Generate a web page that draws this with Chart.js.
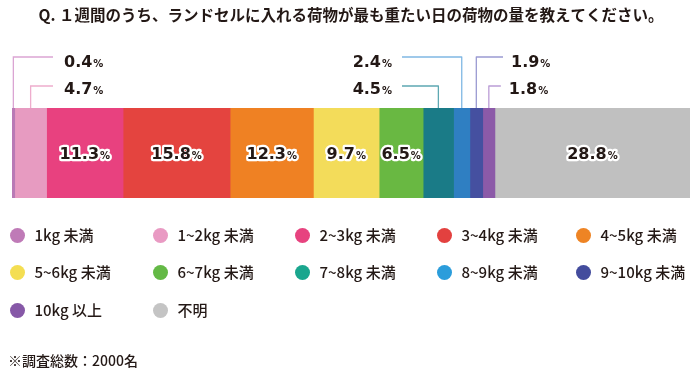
<!DOCTYPE html>
<html>
<head>
<meta charset="utf-8">
<script src="https://cdn.jsdelivr.net/npm/chart.js@4"></script>
<style>
html,body{margin:0;padding:0;background:#fff;}
#wrap{position:relative;width:700px;height:378px;overflow:hidden;font-family:"Noto Sans CJK JP","Noto Sans",sans-serif;color:#231815;}
#c{position:absolute;left:0;top:0;}
.lg{position:absolute;display:flex;align-items:center;height:20px;font-size:15px;line-height:20px;white-space:nowrap;font-weight:500;}
.dot{width:15px;height:15px;border-radius:50%;margin-right:10px;flex:none;}
#note{position:absolute;left:8px;top:349px;font-size:14px;line-height:22px;font-weight:500;}
</style>
</head>
<body>
<div id="wrap">
  <canvas id="c" width="700" height="378"></canvas>
  <div id="legend"></div>
  <div id="note">※調査総数：2000名</div>
</div>
<script>
const titleText = 'Q. １週間のうち、ランドセルに入れる荷物が最も重たい日の荷物の量を教えてください。';
const categories = ['1kg 未満','1~2kg 未満','2~3kg 未満','3~4kg 未満','4~5kg 未満','5~6kg 未満','6~7kg 未満','7~8kg 未満','8~9kg 未満','9~10kg 未満','10kg 以上','不明'];
const values = [0.4, 4.7, 11.3, 15.8, 12.3, 9.7, 6.5, 4.5, 2.4, 1.9, 1.8, 28.8];
const barColors = ['#b97ab5','#e79bc1','#e8417f','#e4443f','#ef8123','#f3dc5a','#69b842','#1a7b87','#2f7fc2','#4550a0','#8c5aa8','#c0c0c0'];
const legendColors = ['#bf7ab7','#e99ac3','#e7437f','#e3413f','#ee8424','#f4de52','#64b946','#1aa68e','#2b9ddb','#434c9d','#8658a7','#c4c4c4'];
const leaderColors = ['#dba5d3','#eeadcd',null,null,null,null,null,'#5ea8b2','#80b8e4','#9a9ad2','#bb9dd6',null];

const total = values.reduce((a, b) => a + b, 0);

// callout placement (layout only)
const callouts = {
  0: {row: 0, side: 'left', end: 53},
  1: {row: 1, side: 'left', end: 53},
  7: {row: 1, side: 'mid', end: 402},
  8: {row: 0, side: 'mid', end: 402},
  9: {row: 0, side: 'right', end: 503},
  10: {row: 1, side: 'right', end: 491}
};
const rowLineY = [57, 86];
const rowBase = [67, 94];
const NUM_FONT = '"DejaVu Sans", sans-serif';
const INK = '#231815';

function drawPct(ctx, v, x, baseline, align, stroke) {
  const num = v.toFixed(1);
  ctx.font = 'bold 16px ' + NUM_FONT;
  const w1 = ctx.measureText(num).width;
  ctx.font = 'bold 10px ' + NUM_FONT;
  const w2 = ctx.measureText('%').width + 1;
  const w = w1 + w2;
  let sx = x;
  if (align === 'center') sx = x - w / 2;
  else if (align === 'right') sx = x - w;
  ctx.textAlign = 'left';
  ctx.textBaseline = 'alphabetic';
  if (stroke) {
    ctx.lineJoin = 'round';
    ctx.strokeStyle = '#ffffff';
    ctx.lineWidth = 4.5;
    ctx.font = 'bold 16px ' + NUM_FONT;
    ctx.strokeText(num, sx, baseline);
    ctx.font = 'bold 10px ' + NUM_FONT;
    ctx.strokeText('%', sx + w1 + 1, baseline);
  }
  ctx.fillStyle = INK;
  ctx.font = 'bold 16px ' + NUM_FONT;
  ctx.fillText(num, sx, baseline);
  ctx.font = 'bold 10px ' + NUM_FONT;
  ctx.fillText('%', sx + w1 + 1, baseline);
}

const labelPlugin = {
  id: 'segLabels',
  afterDatasetsDraw(chart) {
    const ctx = chart.ctx;
    ctx.save();
    chart.data.datasets.forEach((ds, i) => {
      const el = chart.getDatasetMeta(i).data[0];
      if (!el) return;
      const cx = (el.x + el.base) / 2;
      const top = el.y - el.height / 2;
      const v = ds.data[0];
      const co = callouts[i];
      if (!co) {
        drawPct(ctx, v, cx, el.y + 6, 'center', true);
        return;
      }
      const ly = rowLineY[co.row];
      let end = co.end;
      if (co.side === 'right') end = Math.max(end, cx + 12);
      ctx.strokeStyle = leaderColors[i];
      ctx.lineWidth = 1.3;
      ctx.beginPath();
      ctx.moveTo(cx, top);
      ctx.lineTo(cx, ly);
      ctx.lineTo(end, ly);
      ctx.stroke();
      if (co.side === 'left') drawPct(ctx, v, end + 11, rowBase[co.row], 'left', false);
      else if (co.side === 'mid') drawPct(ctx, v, end - 10, rowBase[co.row], 'right', false);
      else drawPct(ctx, v, end + 8, rowBase[co.row], 'left', false);
    });
    ctx.restore();
  }
};

new Chart(document.getElementById('c'), {
  type: 'bar',
  data: {
    labels: ['荷物の量'],
    datasets: values.map((v, i) => ({
      label: categories[i],
      data: [v],
      backgroundColor: barColors[i],
      borderWidth: 0,
      barPercentage: 1,
      categoryPercentage: 1
    }))
  },
  options: {
    responsive: false,
    animation: false,
    devicePixelRatio: 1,
    indexAxis: 'y',
    layout: {padding: {left: 12, right: 10, top: 0, bottom: 180}},
    scales: {
      x: {stacked: true, min: 0, max: total, display: false},
      y: {stacked: true, display: false}
    },
    plugins: {
      legend: {display: false},
      tooltip: {enabled: false},
      title: {
        display: true,
        text: titleText,
        color: INK,
        font: {family: '"Noto Sans CJK JP", sans-serif', size: 15.5, weight: 'bold', lineHeight: 1.2},
        padding: {top: 6, bottom: 83.4}
      }
    }
  },
  plugins: [labelPlugin]
});

// HTML legend built from the series arrays
const colX = [17, 160, 302, 444, 583];
const rowY = [235, 272, 310];
const legendEl = document.getElementById('legend');
categories.forEach((name, i) => {
  const item = document.createElement('div');
  item.className = 'lg';
  item.style.left = (colX[i % 5] - 7.5) + 'px';
  item.style.top = (rowY[Math.floor(i / 5)] - 10) + 'px';
  const dot = document.createElement('span');
  dot.className = 'dot';
  dot.style.background = legendColors[i];
  const txt = document.createElement('span');
  txt.textContent = name;
  item.appendChild(dot);
  item.appendChild(txt);
  legendEl.appendChild(item);
});
</script>
</body>
</html>
